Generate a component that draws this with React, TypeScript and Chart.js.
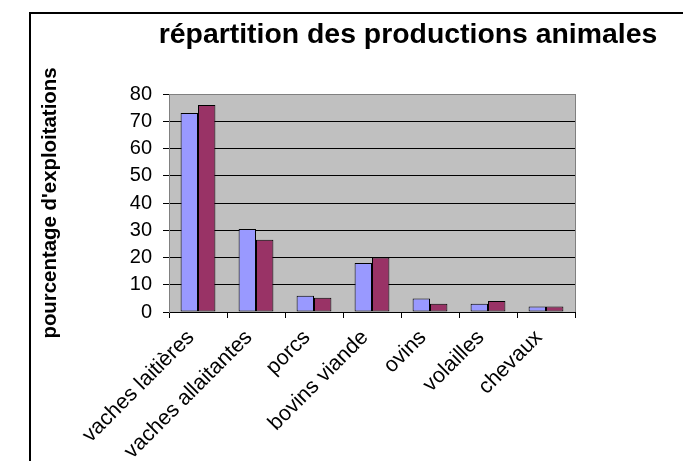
import React, { useEffect, useRef } from "react";
import { Chart, registerables } from "chart.js";

Chart.register(...registerables);

const categories = [
  "vaches laitières",
  "vaches allaitantes",
  "porcs",
  "bovins viande",
  "ovins",
  "volailles",
  "chevaux",
];
const series1 = [73, 30.5, 6, 18, 5, 3, 2];
const series2 = [76, 26.5, 5.2, 20, 3, 4, 2];
const yTicks = [0, 10, 20, 30, 40, 50, 60, 70, 80];
const titleText = "répartition des productions animales";
const yTitleText = "pourcentage d'exploitations";

const FONT = "'Liberation Sans', Arial, sans-serif";

const decorPlugin = {
  id: "decor",
  beforeDraw(chart: any) {
    const { ctx, chartArea } = chart;
    ctx.save();
    ctx.fillStyle = "#ffffff";
    ctx.fillRect(0, 0, chart.width, chart.height);
    ctx.fillStyle = "#c0c0c0";
    ctx.fillRect(chartArea.left, chartArea.top, chartArea.right - chartArea.left, chartArea.bottom - chartArea.top);
    ctx.restore();
  },
  afterDraw(chart: any) {
    const { ctx, chartArea } = chart;
    ctx.save();
    ctx.strokeStyle = "#808080";
    ctx.lineWidth = 1;
    ctx.beginPath();
    ctx.moveTo(Math.round(chartArea.right) + 0.5, chartArea.top);
    ctx.lineTo(Math.round(chartArea.right) + 0.5, chartArea.bottom);
    ctx.stroke();
    ctx.fillStyle = "#000000";
    ctx.fillRect(29, 12, 2, chart.height);
    ctx.fillRect(29, 12, chart.width, 2);
    ctx.fillStyle = "#000000";
    ctx.font = `bold 28.4px ${FONT}`;
    ctx.textAlign = "center";
    ctx.textBaseline = "alphabetic";
    ctx.fillText(titleText, 408, 43);
    ctx.restore();
  },
};

export default function App() {
  const ref = useRef<HTMLCanvasElement | null>(null);
  useEffect(() => {
    if (!ref.current) return;
    const chart = new Chart(ref.current, {
      type: "bar",
      data: {
        labels: categories,
        datasets: [
          {
            data: series1,
            backgroundColor: "#9999ff",
            borderColor: "#000000",
            borderWidth: 1,
            borderSkipped: false,
          },
          {
            data: series2,
            backgroundColor: "#993366",
            borderColor: "#000000",
            borderWidth: 1,
            borderSkipped: false,
          },
        ],
      },
      options: {
        animation: false,
        responsive: false,
        maintainAspectRatio: false,
        layout: { padding: { left: 35, right: 108, top: 94, bottom: 0 } },
        plugins: {
          legend: { display: false },
          tooltip: { enabled: false },
          title: { display: false },
        },
        datasets: { bar: { categoryPercentage: 0.6, barPercentage: 1 } },
        scales: {
          x: {
            offset: true,
            grid: {
              display: true,
              drawOnChartArea: false,
              color: "#000000",
              tickLength: 6,
              offset: true,
            },
            border: { display: true, color: "#000000" },
            ticks: {
              autoSkip: false,
              minRotation: 45,
              maxRotation: 45,
              padding: 7,
              labelOffset: -7,
              color: "#000000",
              font: { family: FONT, size: 21.5 },
            },
            afterFit(scale: any) {
              scale.height = 149;
            },
          },
          y: {
            min: 0,
            max: 80,
            afterBuildTicks(scale: any) {
              scale.ticks = yTicks.map((v) => ({ value: v }));
            },
            grid: {
              color: (c: any) => (c.tick && c.tick.value === 80 ? "#808080" : "#000000"),
              tickColor: "#000000",
              tickLength: 6,
            },
            border: { display: true, color: "#808080" },
            ticks: {
              padding: 11,
              color: "#000000",
              font: { family: FONT, size: 20 },
            },
            title: {
              display: true,
              text: yTitleText,
              color: "#000000",
              padding: { top: 3, bottom: 4 },
              font: { family: FONT, size: 20.4, weight: "bold" },
            },
            afterFit(scale: any) {
              scale.width = 134;
            },
          },
        },
      },
      plugins: [decorPlugin],
    } as any);
    return () => chart.destroy();
  }, []);
  return (
    <div style={{ position: "fixed", left: 0, top: 0, width: 683, height: 461, background: "#fff" }}>
      <canvas ref={ref} width={683} height={461} style={{ display: "block", width: 683, height: 461 }} />
    </div>
  );
}
